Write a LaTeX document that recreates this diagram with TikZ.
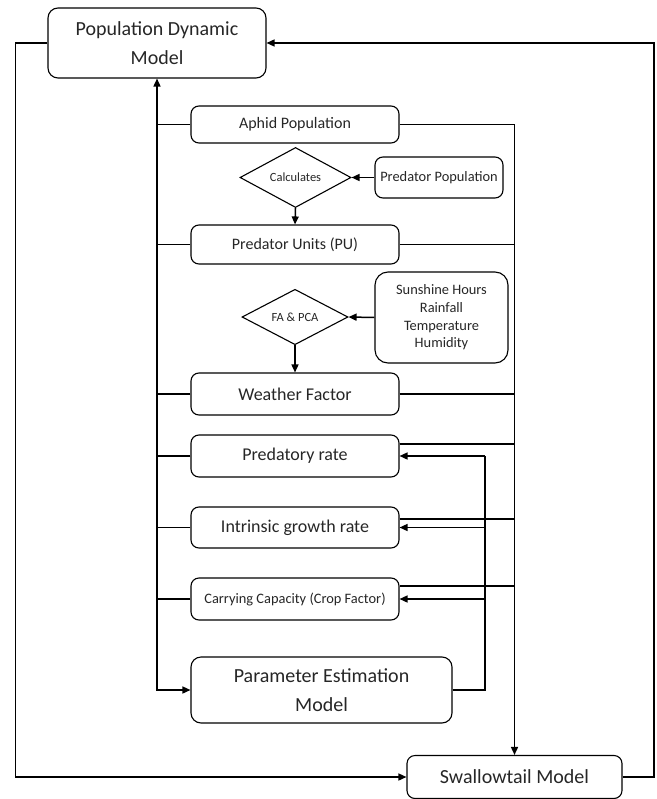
\documentclass[tikz,border=0pt]{standalone}
\usepackage{fontspec}
\setmainfont{Carlito}
\usetikzlibrary{arrows.meta,shapes.geometric}
\begin{document}
\begin{tikzpicture}[x=1pt,y=-1pt,
  box/.style={draw, line width=1.1pt, rounded corners=8pt, inner sep=0pt, align=center, text=black!85},
  dia/.style={draw, line width=1.1pt, diamond, inner sep=0pt, text=black!85, font=\fontsize{12.5}{14}\selectfont},
  conn/.style={line width=1.5pt},
  arr/.style={line width=1.5pt, -{Triangle[length=8pt,width=7pt]}},
  rarr/.style={line width=1.5pt, {Triangle[length=8pt,width=7pt]}-{Triangle[length=8pt,width=7pt]}},
  big/.style={font=\fontsize{20}{29}\selectfont},
  mid/.style={font=\fontsize{18}{21}\selectfont},
  sml/.style={font=\fontsize{16}{19}\selectfont}]
\useasboundingbox (0,0) rectangle (656,799);

\node[box, big, rounded corners=10pt, minimum width=218pt, minimum height=70pt] (pdm) at (157,43) {Population Dynamic\\Model};
\node[box, sml, minimum width=208pt, minimum height=37pt] (aphid) at (295,124.5) {Aphid Population};
\node[dia, minimum width=111pt, minimum height=47pt] (calc) at (295.5,177.5) {Calculates};
\node[box, font=\fontsize{14.4}{17}\selectfont, minimum width=128pt, minimum height=41pt] (predpop) at (439,177.5) {Predator Population};
\node[box, sml, minimum width=208pt, minimum height=39pt] (pu) at (295,244.5) {Predator Units (PU)};
\node[dia, minimum width=106pt, minimum height=50pt] (fa) at (295,317) {FA \& PCA};
\node[box, font=\fontsize{14.4}{17.7}\selectfont, rounded corners=13pt, minimum width=133pt, minimum height=91pt] (sun) at (441.5,317.5) {Sunshine Hours\\Rainfall\\Temperature\\Humidity};
\node[box, mid, minimum width=208pt, minimum height=42pt] (wf) at (295,394) {Weather Factor};
\node[box, mid, minimum width=208pt, minimum height=42pt] (pr) at (295,456) {Predatory rate};
\node[box, mid, minimum width=208pt, minimum height=41pt] (igr) at (295,527.5) {Intrinsic growth rate};
\node[box, font=\fontsize{14.4}{17}\selectfont, minimum width=208pt, minimum height=42pt] (cc) at (295,599) {Carrying Capacity (Crop Factor)};
\node[box, big, rounded corners=10pt, minimum width=261pt, minimum height=66pt] (pe) at (321.5,690) {Parameter Estimation\\Model};
\node[box, big, minimum width=215pt, minimum height=43pt] (sw) at (514.5,777) {Swallowtail Model};

\coordinate (lv) at (15.5,0);
\coordinate (rv) at (654,0);
\coordinate (v2) at (485,0);

% outer loop
\draw[arr] (pdm.west) -| (lv |- sw.west) -- (sw.west);
\draw[arr] (sw.east) -| (rv |- pdm.east) -- (pdm.east);

% main vertical (left)
\draw[rarr] (pdm.south) |- (pe.west);
\foreach \n in {aphid,pu,wf,pr,igr,cc}
  \draw[conn] (\n.west) -- (\n.west -| pdm.south);

% right vertical to swallowtail
\draw[arr] (aphid.east) -| (sw.north);
\draw[conn] (pu.east) -- (pu.east -| sw.north);
\draw[conn] (wf.east) -- (wf.east -| sw.north);
\draw[conn] ([yshift=12pt]pr.east) -- ([yshift=12pt]pr.east -| sw.north);
\draw[conn] ([yshift=8.5pt]igr.east) -- ([yshift=8.5pt]igr.east -| sw.north);
\draw[conn] ([yshift=13pt]cc.east) -- ([yshift=13pt]cc.east -| sw.north);

% feedback from parameter estimation
\draw[conn] (pe.east) -| (pr.east -| v2);
\draw[arr] (pr.east -| v2) -- (pr.east);
\draw[arr] (igr.east -| v2) -- (igr.east);
\draw[arr] (cc.east -| v2) -- (cc.east);

% inputs
\draw[arr] (predpop.west) -- (calc.east);
\draw[arr] (calc.south) -- (pu.north);
\draw[arr] (sun.west) -- (fa.east);
\draw[arr] (fa.south) -- (wf.north);
\end{tikzpicture}
\end{document}
